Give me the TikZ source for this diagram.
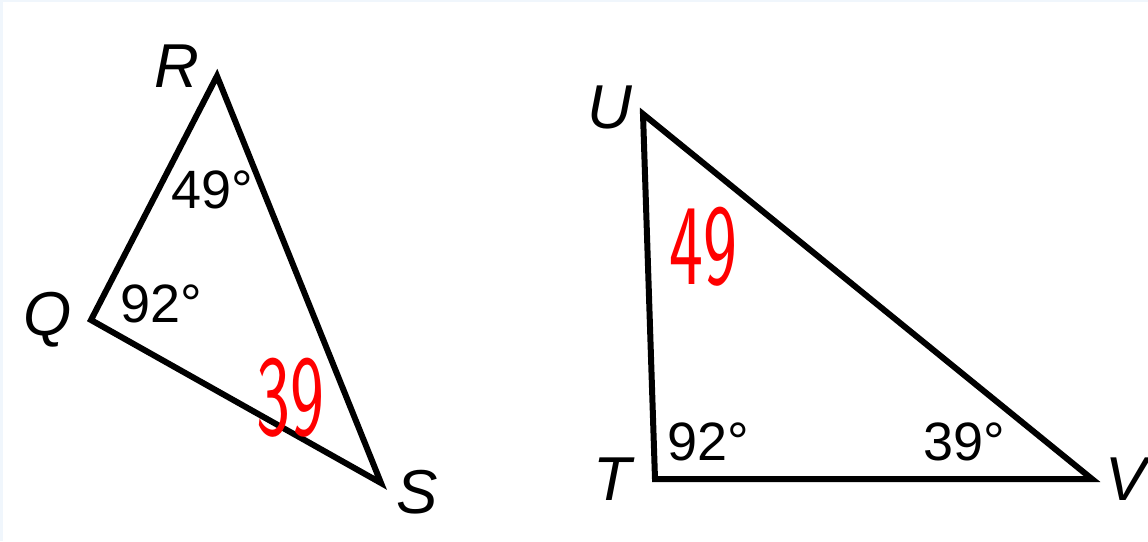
\documentclass[tikz,border=0pt]{standalone}
\usepackage{fontspec}
\setmainfont{Liberation Sans}
\definecolor{framecol}{RGB}{240,246,252}

\begin{document}
\begin{tikzpicture}[x=1pt,y=-1pt,
  vname/.style={font=\fontsize{62}{64}\selectfont\itshape},
  ang/.style={font=\fontsize{54}{56}\selectfont},
  hand/.style={red, font=\fontfamily{lmss}\selectfont\fontsize{72}{74}\selectfont, yscale=1.6}]
\useasboundingbox (0,0) rectangle (1148,541);
\fill[framecol] (0,0) rectangle (1148,2);
\fill[framecol] (0,0) rectangle (3,541);

% left triangle
\coordinate (R) at (217,76);
\coordinate (Q) at (91,320);
\coordinate (S) at (381,483);

\draw[line width=6pt] (R)--(S)--(Q)--cycle;

\node[vname] (lR) at (177,66) {R};
\node[vname] (lQ) at (48,320) {Q};
\node[vname] (lS) at (417,492) {S};

\node[ang] (aR) at (212,190) {49°};
\node[ang] (aQ) at (161,304) {92°};

\node[hand] (hS) at (290,398) {39};

% right triangle
\coordinate (U) at (643,114);
\coordinate (T) at (655,479);
\coordinate (V) at (1092,479);

\draw[line width=6pt] (U)--(T)--(V)--cycle;

\node[vname] (lU) at (610,107) {U};
\node[vname] (lT) at (612,479) {T};
\node[vname] (lV) at (1126,479) {V};

\node[ang] (aT) at (708,442) {92°};
\node[ang] (aV) at (964,442) {39°};

\node[hand] (hU) at (703,247) {49};

\end{tikzpicture}
\end{document}
